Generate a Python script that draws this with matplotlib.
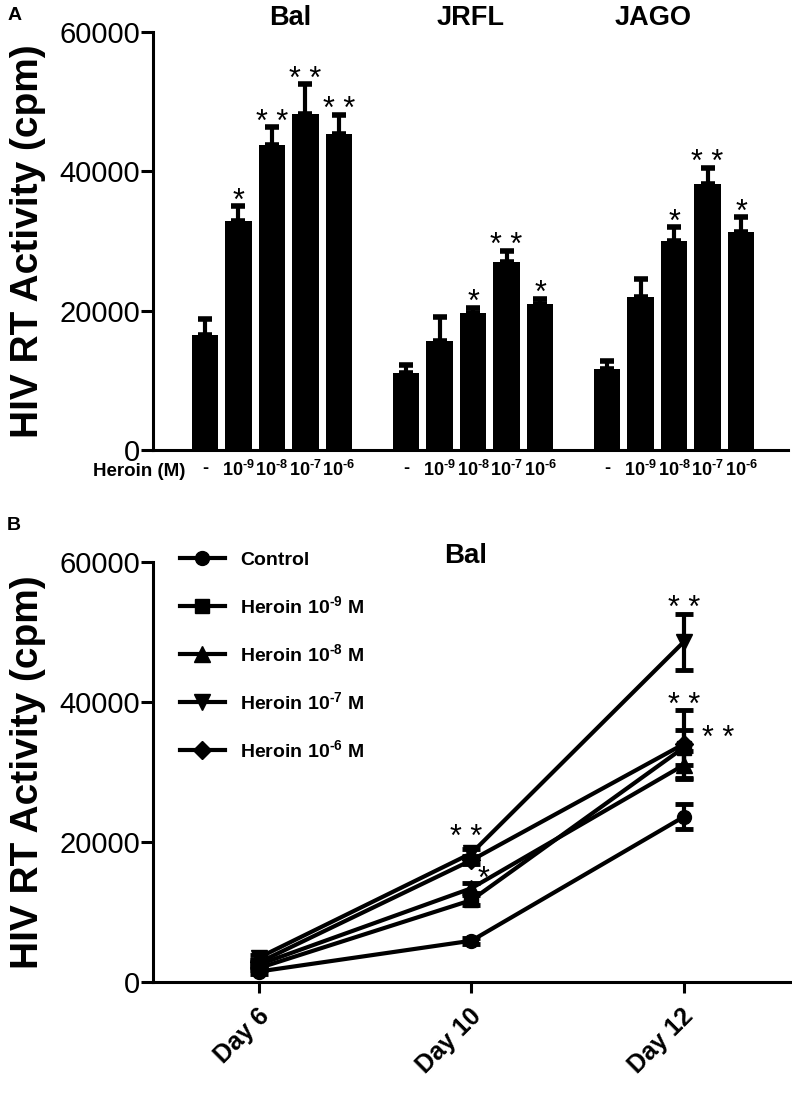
import matplotlib
matplotlib.use('Agg')
import matplotlib.pyplot as plt
import matplotlib.transforms as mtrans
import numpy as np

plt.rcParams['font.family'] = ['Liberation Sans', 'DejaVu Sans']
plt.rcParams['mathtext.fontset'] = 'custom'
plt.rcParams['mathtext.rm'] = 'Liberation Sans:bold'
plt.rcParams['mathtext.bf'] = 'Liberation Sans:bold'
plt.rcParams['mathtext.default'] = 'bf'

# ---- panel A data ----
strains = ['Bal', 'JRFL', 'JAGO']
dose_labels = ['-', r'$10^{\text{-}9}$', r'$10^{\text{-}8}$', r'$10^{\text{-}7}$', r'$10^{\text{-}6}$']
bal_mean = [16500, 32900, 43800, 48300, 45400]
bal_err = [2300, 2100, 2500, 4200, 2700]
bal_sig = ['', '*', '* *', '* *', '* *']
jrfl_mean = [11000, 15600, 19600, 27000, 20900]
jrfl_err = [1200, 3500, 800, 1600, 800]
jrfl_sig = ['', '', '*', '* *', '*']
jago_mean = [11600, 22000, 30000, 38200, 31300]
jago_err = [1200, 2600, 2000, 2300, 2100]
jago_sig = ['', '', '*', '* *', '*']

# ---- panel B data ----
days = ['Day 6', 'Day 10', 'Day 12']
series_names = ['Control', r'Heroin $10^{\text{-}9}$ M', r'Heroin $10^{\text{-}8}$ M',
                r'Heroin $10^{\text{-}7}$ M', r'Heroin $10^{\text{-}6}$ M']
control = [1500, 5900, 23600]
control_err = [300, 400, 1800]
h9 = [2000, 11700, 33500]
h9_err = [300, 700, 2500]
h8 = [2500, 13400, 31000]
h8_err = [300, 700, 2000]
h7 = [3500, 18400, 48600]
h7_err = [400, 600, 4000]
h6 = [2800, 17400, 34000]
h6_err = [400, 600, 4800]
# significance marks: (series index, day index, text)
b_sig = [(3, 2, '* *'), (4, 2, '* *'), (1, 2, '* *'), (3, 1, '* *'), (2, 1, '*')]

fig = plt.figure(figsize=(7.92, 11), dpi=100)

def style_axis(ax):
    for s in ['top', 'right']:
        ax.spines[s].set_visible(False)
    for s in ['left', 'bottom']:
        ax.spines[s].set_linewidth(2.2)
    ax.set_ylim(0, 60000)
    ax.set_yticks([0, 20000, 40000, 60000])
    ax.tick_params(axis='y', length=8.5, width=2.2, pad=1, labelsize=21)

# ================= panel A =================
axA = fig.add_axes([153/792, 1-450/1100, (788-153)/792, (450-32)/1100])
style_axis(axA)
means = [bal_mean, jrfl_mean, jago_mean]
errs = [bal_err, jrfl_err, jago_err]
sigs = [bal_sig, jrfl_sig, jago_sig]
all_x = []
for g in range(3):
    x = np.arange(5) + 6 * g
    all_x.extend(x)
    axA.bar(x, means[g], width=0.8, color='black',
            yerr=[np.zeros(5), errs[g]],
            error_kw=dict(ecolor='black', elinewidth=3, capsize=5, capthick=4))
    for xi, m, e, s in zip(x, means[g], errs[g], sigs[g]):
        if s:
            axA.annotate(s, xy=(xi, m + e), xytext=(0, -2.5), textcoords='offset points',
                         ha='center', va='baseline', fontsize=22)
axA.set_xlim(-1.55, 17.4)
axA.set_xticks(all_x, dose_labels * 3, fontsize=13, fontweight='bold')
axA.tick_params(axis='x', length=0, pad=7)

header_x = [2.54, 7.94, 13.37]
for hx, name in zip(header_x, strains):
    axA.text(hx, 1.033, name, transform=axA.get_xaxis_transform(),
             ha='center', va='center', fontsize=19.5, fontweight='bold')

fig.text(185/792, 1-471/1100, 'Heroin (M)', ha='right', va='center',
         fontsize=13.5, fontweight='bold')
fig.text(28/792, 1-241/1100, 'HIV RT Activity (cpm)', rotation=90,
         ha='center', va='center', fontsize=28, fontweight='bold')
fig.text(15/792, 1-15/1100, 'A', ha='center', va='center', fontsize=14, fontweight='bold')

# ================= panel B =================
axB = fig.add_axes([153/792, 1-982/1100, (790-153)/792, (982-562)/1100])
style_axis(axB)
b_means = [control, h9, h8, h7, h6]
b_errs = [control_err, h9_err, h8_err, h7_err, h6_err]
markers = ['o', 's', '^', 'v', 'D']
msizes = [10, 10, 11, 11, 9]
xd = np.arange(len(days))
handles = []
for m, e, mk, ms in zip(b_means, b_errs, markers, msizes):
    cont = axB.errorbar(xd, m, yerr=e, color='black', lw=3, marker=mk, ms=ms,
                        capsize=6.5, capthick=3.5, elinewidth=3)
    handles.append(cont[0])
for si, di, s in b_sig:
    m = b_means[si][di]
    e = b_errs[si][di]
    if si == 1:
        axB.annotate(s, xy=(di, m + e), xytext=(25, -12), textcoords='offset points',
                     ha='center', va='baseline', fontsize=22)
    elif si == 2:
        axB.annotate(s, xy=(di, m + e), xytext=(9, -3.5), textcoords='offset points',
                     ha='center', va='baseline', fontsize=22)
    elif di == 1:
        axB.annotate(s, xy=(di, m + e), xytext=(-4, 2), textcoords='offset points',
                     ha='center', va='baseline', fontsize=22)
    else:
        axB.annotate(s, xy=(di, m + e), xytext=(0, -2.5), textcoords='offset points',
                     ha='center', va='baseline', fontsize=22)
axB.set_xlim(-0.5, 2.5)
axB.set_xticks(xd, days, fontsize=18, fontweight='bold')
axB.tick_params(axis='x', length=8, width=2.2, pad=14)
shift = mtrans.ScaledTranslation(6/100, 0, fig.dpi_scale_trans)
for lab in axB.get_xticklabels():
    lab.set_rotation(45)
    lab.set_ha('right')
    lab.set_va('center')
    lab.set_rotation_mode('anchor')
    lab.set_transform(lab.get_transform() + shift)

axB.legend(handles, series_names, loc='upper left', bbox_to_anchor=(180/792, 1-551/1100),
           bbox_transform=fig.transFigure, frameon=False,
           prop=dict(weight='bold', size=14), handlelength=2.3, handletextpad=0.8,
           labelspacing=1.35, borderpad=0, borderaxespad=0)
axB.text((466-153)/637, 1.014, 'Bal', transform=axB.transAxes, ha='center', va='center',
         fontsize=20, fontweight='bold')
fig.text(28/792, 1-772/1100, 'HIV RT Activity (cpm)', rotation=90,
         ha='center', va='center', fontsize=28, fontweight='bold')
fig.text(14/792, 1-525/1100, 'B', ha='center', va='center', fontsize=14, fontweight='bold')

fig.savefig('out.png', dpi=100)
